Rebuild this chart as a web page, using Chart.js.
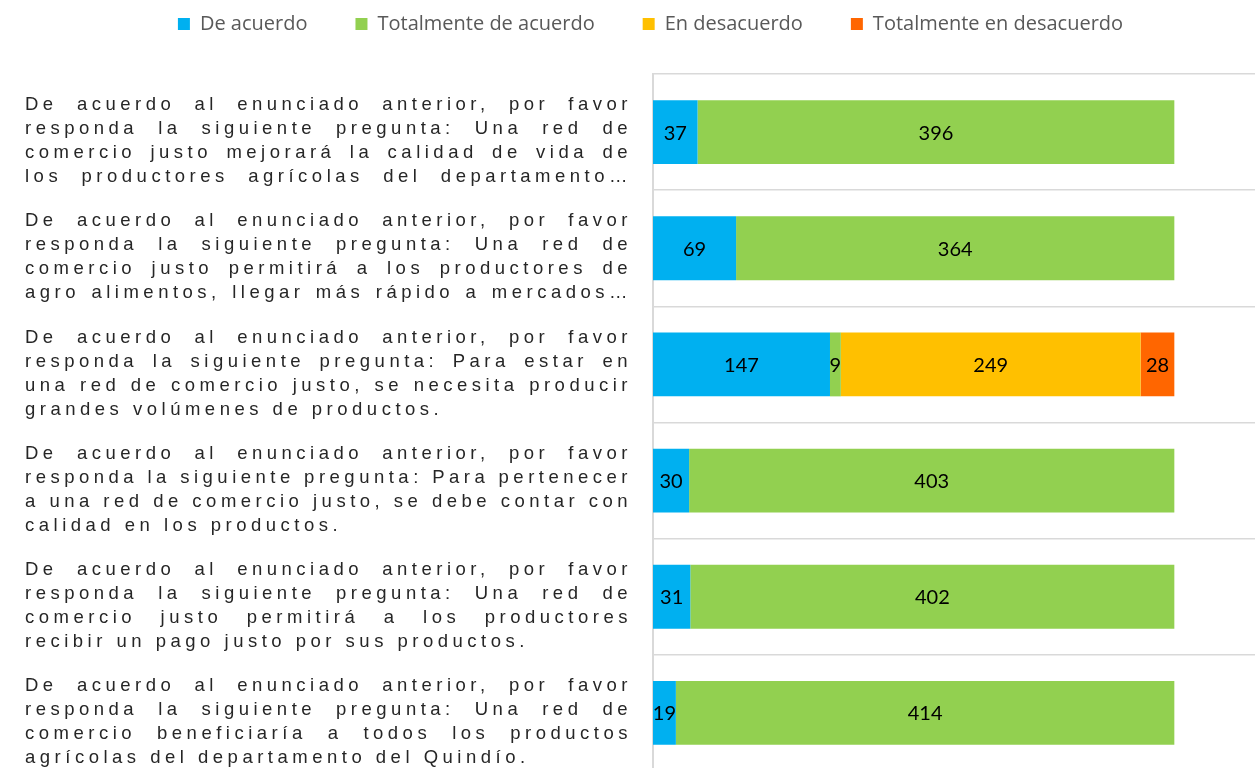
<!DOCTYPE html>
<html>
<head>
<meta charset="utf-8">
<script src="https://cdn.jsdelivr.net/npm/chart.js@4.4.1/dist/chart.umd.min.js"></script>
<style>
    html, body { margin: 0; padding: 0; background: #fff; overflow: hidden; }
    .chart-container { position: relative; width: 1257px; height: 771px; }
</style>
</head>
<body>
<div class="chart-container"><canvas id="survey-chart"></canvas></div>
<script>
const questions = [
    ['De acuerdo al enunciado anterior, por favor', 'responda la siguiente pregunta: Una red de', 'comercio justo mejorará la calidad de vida de', 'los productores agrícolas del departamento…'],
    ['De acuerdo al enunciado anterior, por favor', 'responda la siguiente pregunta: Una red de', 'comercio justo permitirá a los productores de', 'agro alimentos, llegar más rápido a mercados…'],
    ['De acuerdo al enunciado anterior, por favor', 'responda la siguiente pregunta: Para estar en', 'una red de comercio justo, se necesita producir', 'grandes volúmenes de productos.'],
    ['De acuerdo al enunciado anterior, por favor', 'responda la siguiente pregunta: Para pertenecer', 'a una red de comercio justo, se debe contar con', 'calidad en los productos.'],
    ['De acuerdo al enunciado anterior, por favor', 'responda la siguiente pregunta: Una red de', 'comercio justo permitirá a los productores', 'recibir un pago justo por sus productos.'],
    ['De acuerdo al enunciado anterior, por favor', 'responda la siguiente pregunta: Una red de', 'comercio beneficiaría a todos los productos', 'agrícolas del departamento del Quindío.']
];

const deAcuerdo = [37, 69, 147, 30, 31, 19];
const totalmenteDeAcuerdo = [396, 364, 9, 403, 402, 414];
const enDesacuerdo = [0, 0, 249, 0, 0, 0];
const totalmenteEnDesacuerdo = [0, 0, 28, 0, 0, 0];

const seriesNames = ['De acuerdo', 'Totalmente de acuerdo', 'En desacuerdo', 'Totalmente en desacuerdo'];
const seriesColors = ['#00B0F0', '#92D050', '#FFC000', '#FF6600'];

// legend sits higher than chart.js would put it with this item padding
const legendTweaks = {
    id: 'legendTweaks',
    beforeLayout(chart) {
        const lg = chart.legend;
        if (lg && !lg._patched) {
            const fit = lg.fit;
            lg.fit = function () { fit.call(this); this.height = 74; };
            lg._patched = true;
        }
    },
    afterLayout(chart) {
        const lg = chart.legend;
        lg.left += 23;
        lg.right += 23;
        lg.top = -34;
        lg.bottom = 75;
    }
};

function drawJustified(ctx, text, left, right, y, justify) {
    const words = text.split(' ');
    if (!justify || words.length < 2) {
        ctx.fillText(text, left, y);
        return;
    }
    const widths = words.map(w => ctx.measureText(w).width);
    const sum = widths.reduce((a, b) => a + b, 0);
    const gap = (right - left - sum) / (words.length - 1);
    let x = left;
    words.forEach((w, i) => {
        ctx.fillText(w, x, y);
        x += widths[i] + gap;
    });
}

// question labels, justified like the original
const questionLabels = {
    id: 'questionLabels',
    afterDraw(chart) {
        const ctx = chart.ctx;
        const yScale = chart.scales.y;
        ctx.save();
        ctx.font = '18.5px "Liberation Sans", Arial, sans-serif';
        ctx.letterSpacing = '4.5px';
        ctx.fillStyle = '#262626';
        ctx.textBaseline = 'middle';
        ctx.textAlign = 'left';
        questions.forEach((lines, i) => {
            const center = yScale.getPixelForValue(i);
            lines.forEach((line, k) => {
                const y = center - 27 + k * 24;
                const last = k === lines.length - 1;
                drawJustified(ctx, line, 25, 632, y, !last || line.endsWith('…'));
            });
        });
        ctx.restore();
    }
};

const valueLabels = {
    id: 'valueLabels',
    afterDatasetsDraw(chart) {
        const ctx = chart.ctx;
        ctx.save();
        ctx.font = '20px Lato, "Open Sans", sans-serif';
        ctx.fillStyle = '#000';
        ctx.textAlign = 'center';
        ctx.textBaseline = 'middle';
        chart.data.datasets.forEach((ds, i) => {
            const meta = chart.getDatasetMeta(i);
            meta.data.forEach((bar, j) => {
                const v = ds.data[j];
                if (!v) return;
                ctx.fillText(String(v), (bar.x + bar.base) / 2, bar.y + 1);
            });
        });
        ctx.restore();
    }
};

const seriesData = [deAcuerdo, totalmenteDeAcuerdo, enDesacuerdo, totalmenteEnDesacuerdo];

new Chart(document.getElementById('survey-chart'), {
    type: 'bar',
    data: {
        labels: questions,
        datasets: seriesNames.map((name, i) => ({
            label: name,
            data: seriesData[i],
            backgroundColor: seriesColors[i],
            barPercentage: 0.55,
            categoryPercentage: 1
        }))
    },
    options: {
        indexAxis: 'y',
        responsive: true,
        maintainAspectRatio: false,
        animation: false,
        layout: { padding: { right: 2 } },
        plugins: {
            legend: {
                position: 'top',
                labels: {
                    font: { family: '"Open Sans"', size: 20 },
                    color: '#595959',
                    boxWidth: 12,
                    boxHeight: 12,
                    padding: 48
                }
            },
            tooltip: { enabled: false }
        },
        scales: {
            x: { stacked: true, min: 0, max: 500, display: false },
            y: {
                stacked: true,
                ticks: { display: false },
                grid: { color: '#d9d9d9', lineWidth: 1.5, drawTicks: false, offset: true },
                border: { color: '#d9d9d9', width: 2 },
                afterFit: scale => { scale.width = 653; }
            }
        }
    },
    plugins: [legendTweaks, questionLabels, valueLabels]
});
</script>
</body>
</html>
